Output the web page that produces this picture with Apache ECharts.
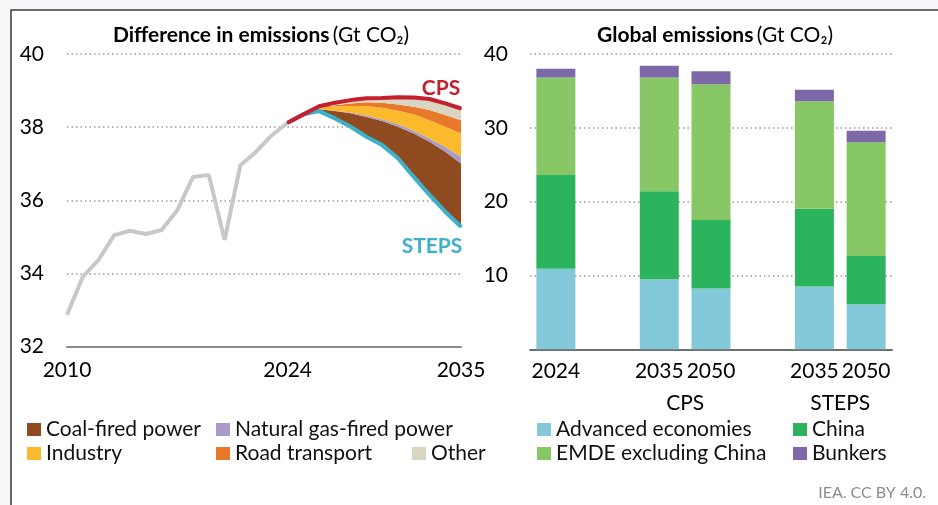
<!DOCTYPE html>
<html>
<head>
<meta charset="utf-8">
<script src="https://cdn.jsdelivr.net/npm/echarts@6/dist/echarts.min.js"></script>
<style>
html, body { margin: 0; padding: 0; background: #f6f7f9; }
#chart { width: 938px; height: 505px; }
</style>
</head>
<body>
<div id="chart"></div>
<script>
var FONT = 'Lato'

// left panel: difference in emissions (Gt CO2)
var years = ['2010', '2011', '2012', '2013', '2014', '2015', '2016', '2017', '2018', '2019', '2020', '2021', '2022',
  '2023', '2024', '2025', '2026', '2027', '2028', '2029', '2030', '2031', '2032', '2033', '2034', '2035']
var yearLabels = ['2010', '2024', '2035']
var historyValues = [32.87, 33.91, 34.37, 35.05, 35.17, 35.08, 35.19, 35.73, 36.64, 36.69, 34.92, 36.96, 37.33, 37.78, 38.12]
// 2024 .. 2035
var cpsValues = [38.12, 38.35, 38.57, 38.67, 38.74, 38.79, 38.80, 38.82, 38.81, 38.77, 38.65, 38.51]
var stepsValues = [38.12, 38.35, 38.44, 38.24, 38.01, 37.74, 37.51, 37.15, 36.64, 36.15, 35.69, 35.28]
var coalValues = [0, 0, 0.05, 0.20, 0.37, 0.54, 0.66, 0.86, 1.19, 1.45, 1.64, 1.73]
var gasValues = [0, 0, 0.01, 0.01, 0.02, 0.04, 0.05, 0.07, 0.07, 0.09, 0.13, 0.18]
var industryValues = [0, 0, 0.04, 0.12, 0.18, 0.26, 0.31, 0.37, 0.45, 0.50, 0.55, 0.64]
var roadValues = [0, 0, 0.02, 0.03, 0.07, 0.10, 0.14, 0.17, 0.21, 0.28, 0.32, 0.36]
var otherValues = [0, 0, 0.01, 0.07, 0.09, 0.11, 0.13, 0.20, 0.25, 0.30, 0.32, 0.32]

// right panel: global emissions (Gt CO2)
var barLabels = ['2024', '', '2035', '2050', '', '2035', '2050']
var barSlots = [0, null, 1, 2, null, 3, 4]
var advancedValues = [10.9, 9.5, 8.25, 8.5, 6.1]
var chinaValues = [12.7, 11.9, 9.25, 10.55, 6.55]
var emdeValues = [13.2, 15.4, 18.4, 14.55, 15.4]
var bunkersValues = [1.2, 1.6, 1.75, 1.55, 1.55]

var projStart = years.indexOf('2024')

function projected(values) {
  // pad the 2024-2035 values onto the full year axis
  return years.map(function(y, i) {
    return i < projStart ? '-' : values[i - projStart]
  })
}

function slotted(values) {
  return barSlots.map(function(s) { return s === null ? '-' : values[s] })
}

function wedge(name, values, color) {
  return {
    name: name,
    type: 'line',
    xAxisIndex: 0,
    yAxisIndex: 0,
    stack: 'diff',
    symbol: 'none',
    color: color,
    itemStyle: { color: color },
    lineStyle: { width: 0 },
    areaStyle: { color: color, opacity: 1 },
    data: projected(values)
  }
}

function bar(name, values, color) {
  return {
    name: name,
    type: 'bar',
    xAxisIndex: 1,
    yAxisIndex: 1,
    stack: 'global',
    barWidth: 39,
    color: color,
    itemStyle: { color: color },
    data: slotted(values)
  }
}

function legendAt(left, top, names) {
  return {
    left: left,
    top: top,
    padding: 0,
    orient: 'vertical',
    data: names,
    icon: 'rect',
    itemWidth: 14,
    itemHeight: 13,
    itemGap: 3,
    selectedMode: false,
    textStyle: { fontFamily: FONT, fontSize: 21, color: '#111' }
  }
}

function scenarioLine(name, values, color, z, label) {
  var data = projected(values)
  data[data.length - 1] = {
    value: values[values.length - 1],
    label: Object.assign({ show: true, color: color, fontFamily: FONT, fontSize: 21, fontWeight: 'bold' }, label)
  }
  return {
    name: name,
    type: 'line',
    xAxisIndex: 0,
    yAxisIndex: 0,
    symbol: 'circle',
    symbolSize: 2,
    showSymbol: true,
    z: z,
    itemStyle: { color: color },
    lineStyle: { color: color, width: 4 },
    data: data
  }
}

var chart = echarts.init(document.getElementById('chart'))

chart.setOption({
  backgroundColor: '#f6f7f9',
  animation: false,
  textStyle: { fontFamily: FONT },
  graphic: [
    {
      type: 'rect',
      z: -10,
      shape: { x: 11, y: 10, width: 950, height: 520 },
      style: { fill: '#fff', stroke: '#3a3a3a', lineWidth: 1.5 }
    },
    {
      type: 'text',
      x: 261,
      y: 35,
      style: {
        text: '{b|Difference in emissions} {n|(Gt CO₂)}',
        align: 'center',
        verticalAlign: 'middle',
        rich: {
          b: { fontFamily: FONT, fontSize: 21, fontWeight: 'bold', fill: '#000' },
          n: { fontFamily: FONT, fontSize: 21, fill: '#000' }
        }
      }
    },
    {
      type: 'text',
      x: 715,
      y: 35,
      style: {
        text: '{b|Global emissions} {n|(Gt CO₂)}',
        align: 'center',
        verticalAlign: 'middle',
        rich: {
          b: { fontFamily: FONT, fontSize: 21, fontWeight: 'bold', fill: '#000' },
          n: { fontFamily: FONT, fontSize: 21, fill: '#000' }
        }
      }
    },
    {
      type: 'text',
      x: 926,
      y: 493,
      style: { text: 'IEA. CC BY 4.0.', align: 'right', verticalAlign: 'middle', fontFamily: FONT, fontSize: 16, fill: '#8c8c8c' }
    }
  ],
  legend: [
    legendAt(27, 419, ['Coal-fired power', 'Industry']),
    legendAt(216, 419, ['Natural gas-fired power', 'Road transport']),
    legendAt(412, 443, ['Other']),
    legendAt(537, 419, ['Advanced economies', 'EMDE excluding China']),
    legendAt(793, 419, ['China', 'Bunkers'])
  ],
  grid: [
    { left: 67, top: 54, width: 394, height: 292.7 },
    { left: 530, top: 54, width: 362, height: 295.3 }
  ],
  xAxis: [
    {
      gridIndex: 0,
      type: 'category',
      data: years,
      boundaryGap: false,
      axisTick: { show: false },
      axisLine: { lineStyle: { color: '#8a8a8a', width: 2 } },
      axisLabel: {
        interval: function(i, v) { return yearLabels.indexOf(v) > -1 },
        color: '#000',
        fontSize: 21,
        margin: 13,
        showMaxLabel: true
      }
    },
    {
      gridIndex: 1,
      type: 'category',
      data: barLabels,
      axisTick: { show: false },
      axisLine: { lineStyle: { color: '#6f6f6f', width: 2 } },
      axisLabel: { interval: 0, color: '#000', fontSize: 21, margin: 11 }
    },
    {
      // scenario names under each pair of bars
      gridIndex: 1,
      type: 'value',
      min: 0,
      max: 7,
      position: 'bottom',
      axisLine: { show: false },
      axisTick: { show: false },
      splitLine: { show: false },
      axisLabel: {
        customValues: [3, 6],
        formatter: function(v) { return v === 3 ? 'CPS' : 'STEPS' },
        color: '#000',
        fontSize: 21,
        margin: 43
      }
    }
  ],
  yAxis: [
    {
      gridIndex: 0,
      type: 'value',
      min: 32,
      max: 40,
      interval: 2,
      axisLine: { show: false },
      axisTick: { show: false },
      axisLabel: { color: '#000', fontSize: 21, margin: 23 },
      splitLine: { lineStyle: { color: '#9a9a9a', type: [1.5, 3], width: 1.5 } }
    },
    {
      gridIndex: 1,
      type: 'value',
      min: 0,
      max: 40,
      interval: 10,
      axisLine: { show: false },
      axisTick: { show: false },
      axisLabel: { color: '#000', fontSize: 21, margin: 22, showMinLabel: false },
      splitLine: { lineStyle: { color: '#9a9a9a', type: [1.5, 3], width: 1.5 } }
    }
  ],
  series: [
    {
      name: 'History',
      type: 'line',
      xAxisIndex: 0,
      yAxisIndex: 0,
      symbol: 'none',
      lineStyle: { color: '#c8c8c8', width: 4 },
      data: historyValues
    },
    {
      name: 'STEPS base',
      type: 'line',
      xAxisIndex: 0,
      yAxisIndex: 0,
      stack: 'diff',
      symbol: 'none',
      lineStyle: { width: 0 },
      data: projected(stepsValues)
    },
    wedge('Coal-fired power', coalValues, '#8f4a1f'),
    wedge('Natural gas-fired power', gasValues, '#a99cc8'),
    wedge('Industry', industryValues, '#fbb92c'),
    wedge('Road transport', roadValues, '#e8782a'),
    wedge('Other', otherValues, '#d8d6c1'),
    scenarioLine('STEPS', stepsValues, '#3cb1c8', 3, { position: 'bottom', offset: [-29, 3], formatter: 'STEPS' }),
    scenarioLine('CPS', cpsValues, '#c41f2e', 4, { position: 'top', offset: [-20, -4], formatter: 'CPS' }),
    bar('Advanced economies', advancedValues, '#84c9d9'),
    bar('China', chinaValues, '#2cb35e'),
    bar('EMDE excluding China', emdeValues, '#88c765'),
    bar('Bunkers', bunkersValues, '#7d68a8')
  ]
})
</script>
</body>
</html>
